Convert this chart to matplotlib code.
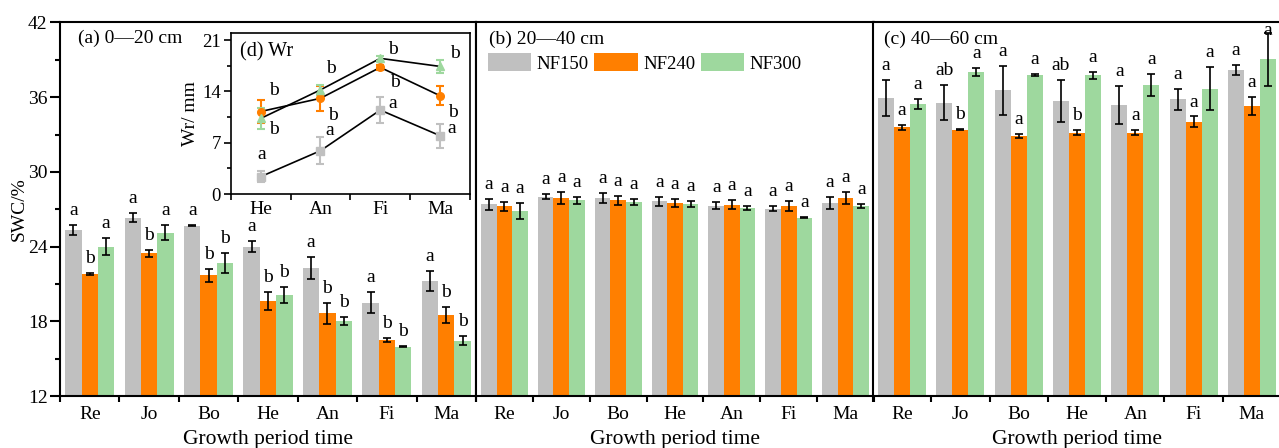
import numpy as np
import matplotlib.pyplot as plt
from matplotlib.patches import Patch
from matplotlib.ticker import MultipleLocator

plt.rcParams['font.family'] = ['Liberation Serif', 'DejaVu Serif']

periods = ['Re', 'Jo', 'Bo', 'He', 'An', 'Fi', 'Ma']
treatments = ['NF150', 'NF240', 'NF300']
colors = ['#C0C0C0', '#FF7F00', '#9ED89E']

# (a) 0-20 cm, rows: NF150, NF240, NF300
swc_a = [[25.34, 26.33, 25.69, 24.00, 22.26, 19.50, 21.24],
         [21.80, 23.47, 21.70, 19.63, 18.64, 16.50, 18.51],
         [24.00, 25.13, 22.66, 20.12, 18.05, 15.96, 16.45]]
err_a = [[0.40, 0.35, 0.05, 0.43, 0.90, 0.86, 0.78],
         [0.05, 0.27, 0.54, 0.75, 0.87, 0.19, 0.62],
         [0.67, 0.63, 0.80, 0.67, 0.33, 0.05, 0.37]]
let_a = [['a', 'a', 'a', 'a', 'a', 'a', 'a'],
         ['b', 'b', 'b', 'b', 'b', 'b', 'b'],
         ['a', 'a', 'b', 'b', 'b', 'b', 'b']]

# (b) 20-40 cm
swc_b = [[27.40, 28.02, 27.89, 27.64, 27.30, 27.03, 27.51],
         [27.24, 27.89, 27.72, 27.51, 27.38, 27.27, 27.89],
         [26.87, 27.72, 27.59, 27.40, 27.11, 26.33, 27.24]]
err_b = [[0.43, 0.20, 0.38, 0.36, 0.27, 0.21, 0.45],
         [0.35, 0.48, 0.38, 0.33, 0.37, 0.39, 0.48],
         [0.67, 0.30, 0.21, 0.23, 0.19, 0.03, 0.16]]
let_b = [['a'] * 7, ['a'] * 7, ['a'] * 7]

# (c) 40-60 cm
swc_c = [[35.92, 35.57, 36.56, 35.71, 35.36, 35.84, 38.17],
         [33.59, 33.40, 32.92, 33.16, 33.16, 34.02, 35.28],
         [35.44, 38.01, 37.77, 37.77, 36.97, 36.67, 39.03]]
err_c = [[1.43, 1.41, 1.96, 1.67, 1.51, 0.84, 0.39],
         [0.19, 0.05, 0.16, 0.20, 0.19, 0.43, 0.71],
         [0.39, 0.31, 0.06, 0.28, 0.91, 1.73, 2.10]]
let_c = [['a', 'ab', 'a', 'ab', 'a', 'a', 'a'],
         ['a', 'b', 'a', 'b', 'a', 'a', 'a'],
         ['a', 'a', 'a', 'a', 'a', 'a', 'a']]

# (d) Wr inset
wr_periods = ['He', 'An', 'Fi', 'Ma']
wr_150 = [2.36, 5.90, 11.45, 7.95]
wr_240 = [11.25, 13.05, 17.27, 13.40]
wr_300 = [10.30, 14.20, 18.50, 17.40]
wr_err_150 = [0.75, 1.86, 1.77, 1.64]
wr_err_240 = [1.55, 1.68, 0.30, 1.27]
wr_err_300 = [1.45, 0.70, 0.30, 0.85]
wr_let_150 = ['a', 'a', 'a', 'a']
wr_let_240 = ['b', 'b', 'b', 'b']
wr_let_300 = ['b', 'b', 'b', 'b']

W, H = 1279, 448
fig = plt.figure(figsize=(W / 100, H / 100), dpi=100)


def box(l, r, t, b):
    return [l / W, 1 - b / H, (r - l) / W, (b - t) / H]


ax_a = fig.add_axes(box(60, 476, 22.5, 396))
ax_b = fig.add_axes(box(476, 874, 22.5, 396))
ax_c = fig.add_axes(box(873, 1281, 22.5, 396))

x = np.arange(len(periods))
w = 0.275


def draw_bars(ax, vals, errs, lets):
    for i in range(3):
        xi = x + (i - 1) * w
        ax.bar(xi, vals[i], w, color=colors[i], yerr=errs[i], capsize=3,
               error_kw=dict(elinewidth=1.2, capthick=1.2, ecolor='black'), zorder=2)
        for xx, v, e, t in zip(xi, vals[i], errs[i], lets[i]):
            ax.text(xx, min(v + e + 0.8, 41.0), t, ha='center', va='baseline', fontsize=14)
    ax.set_xlim(-0.5, 6.5)
    ax.set_ylim(12, 42)
    ax.set_xticks(x)
    ax.set_xticklabels(periods, fontsize=14)
    ax.set_xticks(np.arange(-0.5, 7), minor=True)
    ax.tick_params(axis='x', which='major', length=0, pad=7.5)
    ax.tick_params(axis='x', which='minor', length=4, width=1.5, direction='out')
    ax.set_xlabel('Growth period time', fontsize=15.5, labelpad=5)
    for s in ax.spines.values():
        s.set_linewidth(1.5)


draw_bars(ax_a, swc_a, err_a, let_a)
draw_bars(ax_b, swc_b, err_b, let_b)
draw_bars(ax_c, swc_c, err_c, let_c)

ax_a.yaxis.set_major_locator(MultipleLocator(6))
ax_a.yaxis.set_minor_locator(MultipleLocator(3))
ax_a.tick_params(axis='y', which='major', length=7, width=1.5, labelsize=14, pad=2)
ax_a.tick_params(axis='y', which='minor', length=3.5, width=1.5)
ax_a.set_ylabel('SWC/%', fontsize=14, labelpad=0)
for ax in (ax_b, ax_c):
    ax.set_yticks([])

ax_a.text(0.043, 0.958, '(a) 0\u201420 cm', transform=ax_a.transAxes, fontsize=14, ha='left', va='center')
ax_b.text(0.033, 0.955, '(b) 20\u201440 cm', transform=ax_b.transAxes, fontsize=14, ha='left', va='center')
ax_c.text(0.027, 0.955, '(c) 40\u201460 cm', transform=ax_c.transAxes, fontsize=14, ha='left', va='center')

handles = [Patch(facecolor=c, edgecolor='none') for c in colors]
ax_b.legend(handles, treatments, loc='upper left', bbox_to_anchor=(0.03, 0.918), ncol=3,
            frameon=False, fontsize=13.5, handlelength=2.3, handleheight=1.1,
            handletextpad=0.3, columnspacing=0.3, borderaxespad=0, borderpad=0)

# inset (d)
ax_d = fig.add_axes(box(230.7, 470, 32.7, 194))
xd = np.arange(len(wr_periods))
series = [(wr_150, wr_err_150, wr_let_150, 's'),
          (wr_240, wr_err_240, wr_let_240, 'o'),
          (wr_300, wr_err_300, wr_let_300, '^')]
letter_offsets = [[(1, 22), (9, 20), (12, 7), (12, 7)],
                  [(13, 21), (13, -17), (15, -15), (13, -17)],
                  [(13, -11), (11, 21), (13, 9), (15, 13)]]
for i, (vals, errs, lets, m) in enumerate(series):
    ax_d.plot(xd, vals, color='black', lw=1.2, zorder=1)
    ax_d.errorbar(xd, vals, yerr=errs, fmt=m, color=colors[i], ms=5.5, capsize=3,
                  elinewidth=1.5, capthick=1.5, zorder=2)
    for xx, v, t, (dx, dy) in zip(xd, vals, lets, letter_offsets[i]):
        ax_d.annotate(t, (xx, v), xytext=(dx * 0.72, dy * 0.72), textcoords='offset points',
                      ha='center', va='center', fontsize=14)
ax_d.set_xlim(-0.5, 3.5)
ax_d.set_ylim(0, 22)
ax_d.set_xticks(xd)
ax_d.set_xticklabels(wr_periods, fontsize=14)
ax_d.set_xticks(np.arange(-0.5, 4), minor=True)
ax_d.tick_params(axis='x', which='major', length=0, pad=5)
ax_d.tick_params(axis='x', which='minor', length=4, width=1.2)
ax_d.set_yticks([0, 7, 14, 21])
ax_d.yaxis.set_minor_locator(MultipleLocator(3.5))
ax_d.tick_params(axis='y', which='major', length=5, width=1.2, labelsize=13.5, pad=2)
ax_d.tick_params(axis='y', which='minor', length=3, width=1.2)
ax_d.set_ylabel('Wr/ mm', fontsize=14, labelpad=2)
ax_d.text(0.039, 0.882, '(d) Wr', transform=ax_d.transAxes, fontsize=14.5, ha='left', va='center')
for s in ax_d.spines.values():
    s.set_linewidth(1.2)

fig.savefig('out.png', dpi=100)
